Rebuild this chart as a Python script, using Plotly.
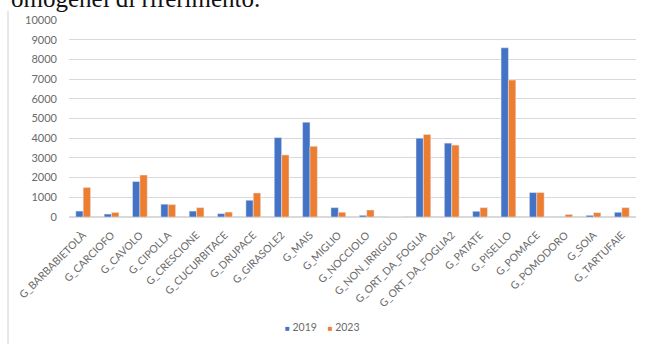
import plotly.graph_objects as go

categories = [
    "G_BARBABIETOLÀ", "G_CARCIOFO", "G_CAVOLO", "G_CIPOLLA", "G_CRESCIONE",
    "G_CUCURBITACE", "G_DRUPACE", "G_GIRASOLE2", "G_MAIS", "G_MIGLIO",
    "G_NOCCIOLO", "G_NON_IRRIGUO", "G_ORT_DA_FOGLIA", "G_ORT_DA_FOGLIA2",
    "G_PATATE", "G_PISELLO", "G_POMACE", "G_POMODORO", "G_SOIA", "G_TARTUFAIE",
]
values_2019 = [300, 150, 1800, 650, 300, 170, 850, 4030, 4810, 475,
               85, 0, 4000, 3750, 290, 8590, 1240, 10, 85, 240]
values_2023 = [1500, 230, 2130, 630, 475, 250, 1220, 3150, 3590, 240,
               355, 0, 4190, 3650, 475, 6950, 1240, 130, 220, 475]
y_ticks = list(range(0, 10001, 1000))
series_names = ["2019", "2023"]
series_colors = ["#4472C4", "#ED7D31"]

W, H = 645, 344
M_L, M_R, M_T, M_B = 69, 9, 20, 127
plot_w = W - M_L - M_R
plot_h = H - M_T - M_B


def px_x(px):
    return (px - M_L) / plot_w


def px_y(py):
    return (H - M_B - py) / plot_h


label_font = dict(family="Lato, 'Open Sans', sans-serif", size=10.5, color="#6A6A6A")

fig = go.Figure()
for name, vals, col in zip(series_names, [values_2019, values_2023], series_colors):
    fig.add_trace(go.Bar(name=name, x=categories, y=vals, marker_color=col,
                         showlegend=False))

fig.update_layout(
    width=W, height=H,
    margin=dict(l=M_L, r=M_R, t=M_T, b=M_B, pad=0),
    paper_bgcolor="white", plot_bgcolor="white",
    barmode="group", bargap=0.48, bargroupgap=0.0,
    xaxis=dict(tickangle=-45, tickfont=label_font, showgrid=False,
               showline=False, ticks="", ticklabelstandoff=9, automargin=False),
    yaxis=dict(range=[0, 10000], tickvals=y_ticks, tickformat="d",
               tickfont=dict(label_font, size=11),
               showgrid=True, gridcolor="#D9D9D9", gridwidth=1,
               zeroline=True, zerolinecolor="#D9D9D9", ticks="",
               ticklabelstandoff=11, automargin=False),
)

# Legend drawn as a single line of coloured squares and labels
legend_text = "    ".join(
    f'<span style="color:{c};font-size:8px">■</span> {n}'
    for n, c in zip(series_names, series_colors)
)
fig.add_annotation(
    text=legend_text, xref="paper", yref="paper",
    x=px_x(322), xanchor="center", y=px_y(327), yanchor="middle",
    showarrow=False, font=dict(label_font, size=10.5),
)

# Heading text partially visible above the chart
fig.add_annotation(
    text="omogenei di riferimento.", xref="paper", yref="paper",
    x=px_x(9), xanchor="left", y=px_y(14), yanchor="bottom",
    showarrow=False, font=dict(family="Liberation Serif, serif", size=25, color="#111111"),
)

# Thin frame line on the left side
fig.add_shape(type="line", xref="paper", yref="paper",
              x0=px_x(8), x1=px_x(8), y0=px_y(H), y1=px_y(11),
              line=dict(color="#D0D0D0", width=1))

fig.write_html("out.html")
